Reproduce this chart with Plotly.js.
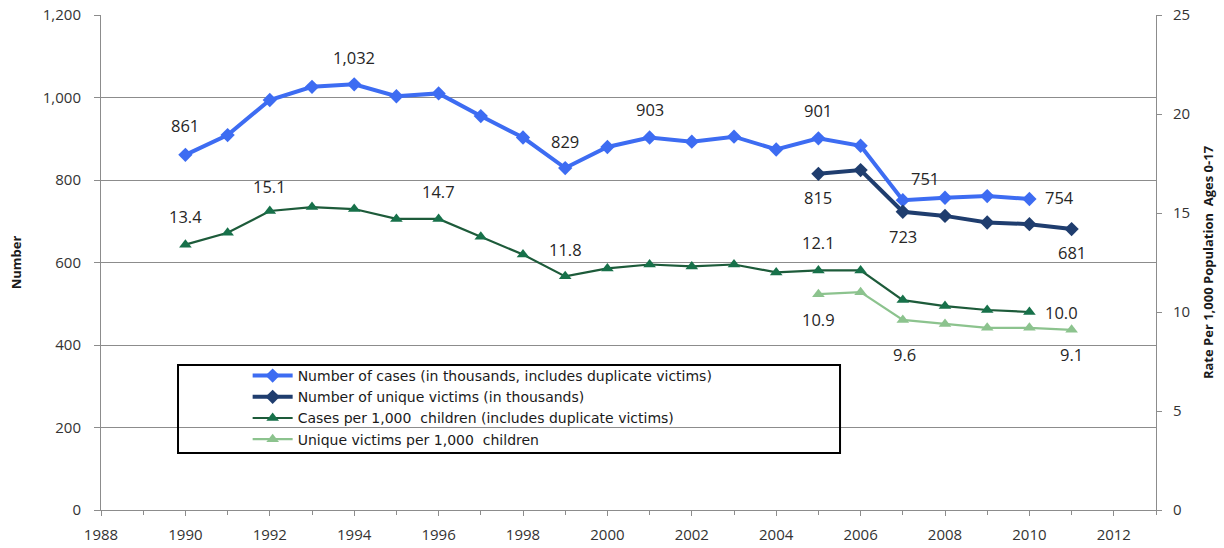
<!DOCTYPE html>
<html>
<head>
<meta charset="utf-8">
<script src="https://cdn.plot.ly/plotly-3.0.1.min.js"></script>
<style>
  html, body { margin: 0; padding: 0; background: #ffffff; }
  #chart { width: 1224px; height: 548px; }
</style>
</head>
<body>
<div id="chart"></div>
<script>
// Years for each series
const yearsAll = [1990, 1991, 1992, 1993, 1994, 1995, 1996, 1997, 1998, 1999, 2000,
                  2001, 2002, 2003, 2004, 2005, 2006, 2007, 2008, 2009, 2010];
const yearsUnique = [2005, 2006, 2007, 2008, 2009, 2010, 2011];

// Number of cases (thousands, includes duplicate victims)
const casesThousands = [861, 909, 994, 1026, 1032, 1003, 1010, 955, 903, 829, 880,
                        903, 893, 905, 874, 901, 883, 751, 757, 761, 754];
// Number of unique victims (thousands)
const uniqueThousands = [815, 824, 723, 713, 697, 693, 681];
// Cases per 1,000 children
const casesRate = [13.4, 14.0, 15.1, 15.3, 15.2, 14.7, 14.7, 13.8, 12.9, 11.8, 12.2,
                   12.4, 12.3, 12.4, 12.0, 12.1, 12.1, 10.6, 10.3, 10.1, 10.0];
// Unique victims per 1,000 children
const uniqueRate = [10.9, 11.0, 9.6, 9.4, 9.2, 9.2, 9.1];

// Which points carry a value label, with the label's pixel offset from the point
const casesLabels = [
  {year: 1990, dx: 0, dy: 29}, {year: 1994, dx: 0, dy: 27}, {year: 1999, dx: 0, dy: 27},
  {year: 2001, dx: 0, dy: 28}, {year: 2005, dx: 0, dy: 28}, {year: 2007, dx: 22, dy: 22},
  {year: 2010, dx: 30, dy: 1}
];
const uniqueLabels = [
  {year: 2005, dx: 0, dy: -24}, {year: 2007, dx: 0, dy: -25}, {year: 2011, dx: 0, dy: -23}
];
const casesRateLabels = [
  {year: 1990, dx: 0, dy: 28}, {year: 1992, dx: 0, dy: 25}, {year: 1996, dx: 0, dy: 27},
  {year: 1999, dx: 0, dy: 27}, {year: 2005, dx: 0, dy: 28}, {year: 2010, dx: 32, dy: 0}
];
const uniqueRateLabels = [
  {year: 2005, dx: 0, dy: -25}, {year: 2007, dx: 2, dy: -35}, {year: 2011, dx: 0, dy: -25}
];

const FONT = '"Open Sans", "Liberation Sans", Arial, sans-serif';
const fmt = v => v >= 100 ? v.toLocaleString('en-US') : v.toFixed(1);

function labelsFor(xs, ys, picks, yref) {
  return picks.map(p => {
    const i = xs.indexOf(p.year);
    return {
      x: xs[i], y: ys[i], xref: 'x', yref: yref,
      text: fmt(ys[i]), showarrow: false,
      xshift: p.dx, yshift: p.dy,
      font: {family: FONT, size: 16.5, color: '#262626'}
    };
  });
}

const traces = [
  {
    x: yearsAll, y: casesThousands, name: 'Number of cases (in thousands, includes duplicate victims)',
    type: 'scatter', mode: 'lines+markers', yaxis: 'y',
    line: {color: '#3D6CF2', width: 4},
    marker: {symbol: 'diamond', size: 11, color: '#3D6CF2'}
  },
  {
    x: yearsUnique, y: uniqueThousands, name: 'Number of unique victims (in thousands)',
    type: 'scatter', mode: 'lines+markers', yaxis: 'y',
    line: {color: '#1F3D6E', width: 4},
    marker: {symbol: 'diamond', size: 11, color: '#1F3D6E'}
  },
  {
    x: yearsAll, y: casesRate, name: 'Cases per 1,000  children (includes duplicate victims)',
    type: 'scatter', mode: 'lines+markers', yaxis: 'y2',
    line: {color: '#1D5B3A', width: 2.2},
    marker: {symbol: 'triangle-up', size: 11, color: '#17714A'}
  },
  {
    x: yearsUnique, y: uniqueRate, name: 'Unique victims per 1,000  children',
    type: 'scatter', mode: 'lines+markers', yaxis: 'y2',
    line: {color: '#8CC38E', width: 2.2},
    marker: {symbol: 'triangle-up', size: 11, color: '#8CC38E'}
  }
];

const tickFont = {family: FONT, size: 15, color: '#333333'};

const layout = {
  width: 1224, height: 548,
  margin: {l: 101, r: 68, t: 15, b: 38},
  paper_bgcolor: '#ffffff', plot_bgcolor: '#ffffff',
  showlegend: true,
  legend: {
    x: 0.139, y: 0.303, xanchor: 'left', yanchor: 'top',
    bgcolor: 'rgba(0,0,0,0)', borderwidth: 0,
    font: {family: '"DejaVu Sans", "Open Sans", sans-serif', size: 14, color: '#1a1a1a'},
    tracegroupgap: 0, itemwidth: 40
  },
  xaxis: {
    range: [1988, 2013], tick0: 1988, dtick: 2, tickformat: 'd',
    showgrid: false, zeroline: false,
    showline: true, linecolor: '#8c8c8c', linewidth: 1,
    ticks: 'outside', ticklen: 5, tickcolor: '#8c8c8c',
    minor: {dtick: 1, ticks: 'outside', ticklen: 4, tickcolor: '#8c8c8c'},
    ticklabelstandoff: 6,
    tickfont: tickFont
  },
  yaxis: {
    range: [0, 1200], dtick: 200, tickformat: ',d',
    showgrid: true, gridcolor: '#8c8c8c', gridwidth: 1, zeroline: false,
    showline: true, linecolor: '#8c8c8c', linewidth: 1,
    ticks: 'outside', ticklen: 6, tickcolor: '#8c8c8c',
    ticklabelstandoff: 10,
    tickfont: tickFont,
    title: {text: '<b>Number</b>', font: {family: FONT, size: 13, color: '#1a1a1a'}, standoff: 18}
  },
  yaxis2: {
    range: [0, 25], dtick: 5, overlaying: 'y', side: 'right',
    showgrid: false, zeroline: false,
    showline: true, linecolor: '#8c8c8c', linewidth: 1,
    ticks: 'outside', ticklen: 5, tickcolor: '#8c8c8c',
    ticklabelstandoff: 8,
    tickfont: tickFont,
    title: {text: '<b>Rate Per 1,000 Population  Ages 0-17</b>', font: {family: FONT, size: 13, color: '#1a1a1a'}, standoff: 14}
  },
  shapes: [{
    type: 'rect', xref: 'paper', yref: 'paper',
    x0: 0.073, x1: 0.7005, y0: 0.115, y1: 0.293,
    line: {color: '#000000', width: 2}, fillcolor: 'rgba(0,0,0,0)'
  }],
  annotations: [].concat(
    labelsFor(yearsAll, casesThousands, casesLabels, 'y'),
    labelsFor(yearsUnique, uniqueThousands, uniqueLabels, 'y'),
    labelsFor(yearsAll, casesRate, casesRateLabels, 'y2'),
    labelsFor(yearsUnique, uniqueRate, uniqueRateLabels, 'y2')
  )
};

Plotly.newPlot('chart', traces, layout, {displayModeBar: false, staticPlot: true});
</script>
</body>
</html>
